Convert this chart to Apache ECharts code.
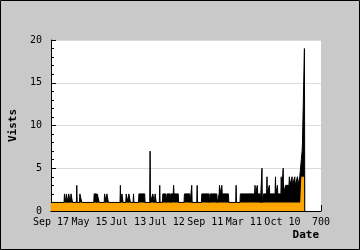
<!DOCTYPE html>
<html><head><meta charset="utf-8">
<script src="https://cdn.jsdelivr.net/npm/echarts@6/dist/echarts.min.js"></script>
<style>html,body{margin:0;padding:0;background:#c9c9c9}#c{width:360px;height:250px}</style>
</head><body><div id="c"></div>
<script>
const xTickLabels = ['Sep 17','May 15','Jul 13','Jul 12','Sep 11','Mar 11','Oct 10','700'];
const yTicks = [0,5,10,15,20];
// Visits per sample: [sample index, visits]
const visitsBlack = [
[0,1],
[34,1],[35,2],[38,2],[39,1],
[39,1],[40,2],[43,2],[44,1],
[45,1],[46,2],[49,2],[50,1],
[51,1],[52,2],[55,2],[56,1],
[66,1],[67,3],[68,1],
[74,1],[75,2],[79,2],[80,1],
[111,1],[112,2],[118,2],[119,1],
[119,1],[120,2],[124,2],[125,1],
[138,1],[139,2],[142,2],[143,1],
[144,1],[145,2],[148,2],[149,1],
[179,1],[180,3],[181,1],
[183,1],[184,2],[186,2],[187,1],
[194,1],[195,2],[199,2],[200,1],
[201,1],[202,2],[205,2],[206,1],
[213,1],[214,2],[215,1],
[227,1],[228,2],[243,2],[244,1],
[256,1],[257,7],[258,1],
[263,1],[264,2],[267,2],[268,1],
[269,1],[270,2],[272,2],[273,1],
[281,1],[282,3],[283,1],
[289,1],[290,2],[298,2],[299,1],
[300,1],[301,2],[309,2],[310,1],
[310,1],[311,2],[317,2],[318,3],[319,2],[330,2],[331,1],
[345,1],[346,2],[360,2],[361,1],
[364,1],[365,3],[366,1],
[378,1],[379,3],[380,1],
[390,1],[391,2],[410,2],[411,1],
[412,1],[413,2],[430,2],[431,1],
[435,1],[436,2],[437,3],[438,2],[442,2],[443,3],[444,2],[460,2],[461,1],
[479,1],[480,3],[481,1],
[490,1],[491,2],[528,2],[529,3],[530,2],[534,2],[535,3],[536,2],[542,2],[543,1],
[546,1],[547,5],[548,1],
[550,1],[551,2],[559,2],[560,4],[561,2],[565,2],[566,3],[567,2],[581,2],[582,4],[583,2],[586,2],[587,3],[588,2],[596,2],[597,4],[598,2],[601,2],[602,5],[603,2],
[607,2],[608,3],[617,3],[618,4],[619,3],[624,3],[625,4],[626,3],[631,3],[632,4],[633,3],[638,3],[639,4],[640,3],[644,3],[645,4],[646,4],[649,6],[651,7],[652,8],[655,8],[656,8],[657,19],[658,0]
];
const visitsOrange = [[0,1],[646,1],[648,3],[649,4],[656,4],[657,4],[658,0]];

const chart = echarts.init(document.getElementById('c'), null, {renderer:'canvas'});
const mono = '"DejaVu Sans Mono", monospace';
chart.setOption({
  backgroundColor:'#c9c9c9',
  animation:false,
  grid:{left:41,right:39,top:40,bottom:39,show:true,backgroundColor:'#fff',borderWidth:0},
  graphic:[{type:'rect',shape:{x:0.5,y:0.5,width:359,height:249},style:{fill:'none',stroke:'#000',lineWidth:1},z:100},
    {type:'text',right:41,top:230,style:{text:'Date',font:'bold 11px "DejaVu Sans Mono"',fill:'#000'}}],
  xAxis:{type:'value',min:0,max:700,interval:100,
    axisLine:{show:true,lineStyle:{color:'#000',width:1}},
    axisTick:{show:true,inside:true,length:6,lineStyle:{color:'#000'}},
    splitLine:{show:false},
    axisLabel:{color:'#000',fontFamily:mono,fontSize:10,margin:6,
      formatter:v=>xTickLabels[Math.round(v/100)]}},
  yAxis:{type:'value',min:0,max:20,interval:5,
    name:'Vists',nameLocation:'middle',nameGap:31,
    nameTextStyle:{color:'#000',fontFamily:mono,fontWeight:'bold',fontSize:11},
    axisLine:{show:true,lineStyle:{color:'#000',width:1}},
    axisTick:{show:true,inside:true,length:5,lineStyle:{color:'#000'}},
    minorTick:{show:true,splitNumber:5,length:3,lineStyle:{color:'#000'}},
    splitLine:{show:true,lineStyle:{color:'#dcdcdc',width:1}},
    axisLabel:{color:'#000',fontFamily:mono,fontSize:10,margin:9,
      formatter:v=>yTicks.includes(v)?String(v):''}},
  series:[
    {type:'line',data:visitsBlack,symbol:'none',lineStyle:{width:0},areaStyle:{color:'#000',opacity:1},z:2},
    {type:'line',data:visitsOrange,symbol:'none',lineStyle:{width:0},areaStyle:{color:'#ffa500',opacity:1},z:3},
    {type:'line',data:visitsBlack,symbol:'none',lineStyle:{width:1,color:'#000'},z:4}
  ]
});
</script></body></html>
